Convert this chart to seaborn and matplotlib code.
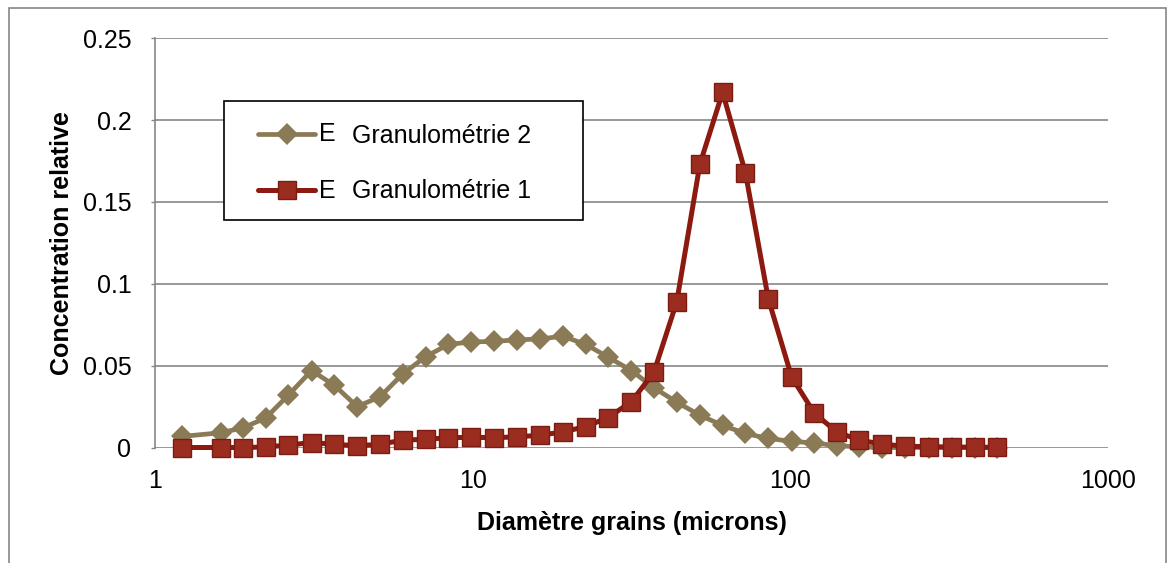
import pandas as pd
import seaborn as sns
import matplotlib.pyplot as plt
from matplotlib.patches import Rectangle
from matplotlib.ticker import NullLocator

# Grain diameters (microns) and relative concentrations
diametre = [1.22, 1.61, 1.89, 2.23, 2.63, 3.11, 3.67, 4.33, 5.11, 6.03, 7.11, 8.39,
            9.91, 11.7, 13.8, 16.3, 19.2, 22.7, 26.7, 31.6, 37.2, 43.9, 51.9, 61.2,
            72.2, 85.2, 101, 119, 140, 165, 195, 230, 273, 322, 380, 448]
granulo_1 = [0.0, 0.0, 0.0, 0.0003, 0.0015, 0.003, 0.002, 0.001, 0.002, 0.0045, 0.005, 0.006,
             0.0062, 0.006, 0.0065, 0.0075, 0.0095, 0.0128, 0.0183, 0.028, 0.046, 0.089, 0.173, 0.217,
             0.168, 0.091, 0.043, 0.021, 0.0095, 0.0045, 0.002, 0.0008, 0.0005, 0.0003, 0.0002, 0.0001]
granulo_2 = [0.0068, 0.009, 0.012, 0.018, 0.032, 0.047, 0.038, 0.025, 0.031, 0.045, 0.0555, 0.063,
             0.0645, 0.0648, 0.0658, 0.0663, 0.068, 0.063, 0.0552, 0.047, 0.0365, 0.0277, 0.0197, 0.0135,
             0.0086, 0.0055, 0.0038, 0.0027, 0.0012, 0.0003, 0.0, 0.0, 0.0, 0.0, 0.0, 0.0]
series_names = ['Granulométrie 2', 'Granulométrie 1']
x_ticks = [1, 10, 100, 1000]
x_tick_labels = ['1', '10', '100', '1000']
y_ticks = [0, 0.05, 0.1, 0.15, 0.2, 0.25]
y_tick_labels = ['0', '0.05', '0.1', '0.15', '0.2', '0.25']

sns.set_theme(style='white')
plt.rcParams['font.family'] = ['Liberation Sans', 'DejaVu Sans']
plt.rcParams['text.color'] = 'black'

W, H = 1168, 563
fig = plt.figure(figsize=(W / 100, H / 100), dpi=100)
ax = fig.add_axes([155 / W, 1 - 447.5 / H, (1108 - 155) / W, (447.5 - 38.3) / H])

df = pd.DataFrame({'Diametre': diametre, 'G1': granulo_1, 'G2': granulo_2})

tan = '#8A7A56'
red_line = '#8C1A10'
red_fill = '#9B2D20'
red_edge = '#7A1C12'
grey = '#868686'

sns.lineplot(data=df, x='Diametre', y='G2', ax=ax, color=tan, linewidth=3.4,
             marker='D', markersize=11, markerfacecolor=tan, markeredgewidth=0,
             clip_on=False, zorder=3, errorbar=None, sort=False)
sns.lineplot(data=df, x='Diametre', y='G1', ax=ax, color=red_line, linewidth=3.6,
             marker='s', markersize=13, markerfacecolor=red_fill, markeredgecolor=red_edge,
             markeredgewidth=1, clip_on=False, zorder=4, errorbar=None, sort=False)
if ax.get_legend() is not None:
    ax.get_legend().remove()

ax.set_xscale('log')
ax.set_xlim(1, 1000)
ax.set_ylim(0, 0.25)
ax.set_xticks(x_ticks)
ax.set_xticklabels(x_tick_labels)
ax.xaxis.set_minor_locator(NullLocator())
ax.set_yticks(y_ticks)
ax.set_yticklabels(y_tick_labels)
ax.tick_params(axis='x', length=0, pad=15.5, labelsize=18, labelcolor='black')
ax.tick_params(axis='y', left=True, length=3, width=1, color=grey, pad=14,
               labelsize=18, labelcolor='black')
ax.yaxis.grid(True, color=grey, linewidth=1.2)
ax.xaxis.grid(False)
ax.set_axisbelow(True)
for side in ['top', 'right', 'bottom']:
    ax.spines[side].set_visible(False)
ax.spines['left'].set_color(grey)
ax.spines['left'].set_linewidth(1.2)

ax.set_xlabel('Diamètre grains (microns)', fontsize=18, fontweight='bold', color='black')
ax.set_ylabel('Concentration relative', fontsize=18, fontweight='bold', color='black')
ax.xaxis.set_label_coords(0.5, -0.155)
ax.yaxis.set_label_coords(-0.085, 0.5)

# legend box and legend
fig.add_artist(Rectangle((224 / W, 1 - 220 / H), (583 - 224) / W, (220 - 101) / H,
                         transform=fig.transFigure, facecolor='white', edgecolor='black',
                         linewidth=1.2, zorder=1))
lines = ax.get_lines()
leg = fig.legend(handles=[lines[0], lines[1]], labels=series_names, loc='upper left',
                 bbox_to_anchor=(258 / W, 1 - 124 / H), bbox_transform=fig.transFigure,
                 frameon=False, borderpad=0, borderaxespad=0, handlelength=2.28,
                 handletextpad=1.48, labelspacing=1.25, fontsize=18, numpoints=1,
                 labelcolor='black')
leg.set_zorder(2)
for ypix in [141, 198]:
    fig.text(319 / W, 1 - ypix / H, 'E', fontsize=18, va='baseline', ha='left', color='black',
             family=['Liberation Sans Narrow', 'Liberation Sans'], zorder=3)

# outer chart frame
fig.add_artist(Rectangle((9 / W, -0.1), (1166 - 9) / W, 1.1 - 8 / H,
                         transform=fig.transFigure, fill=False, edgecolor=grey,
                         linewidth=1.2, zorder=0))

fig.savefig('out.png', dpi=100)
